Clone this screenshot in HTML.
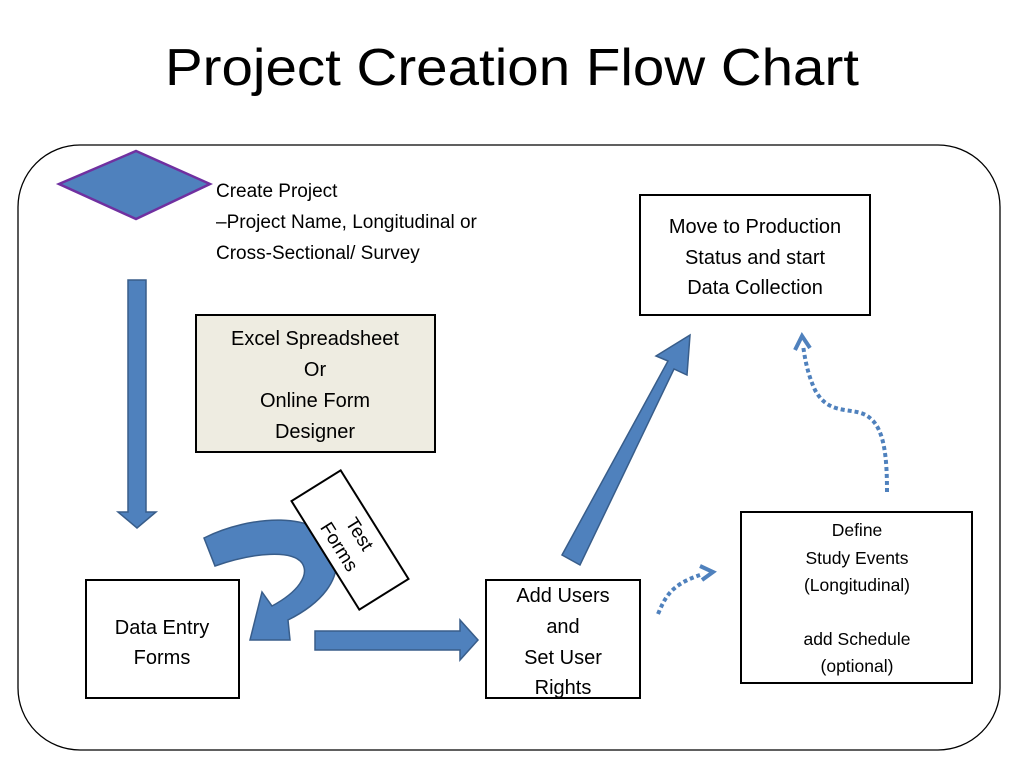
<!DOCTYPE html>
<html><head><meta charset="utf-8"><style>html,body{margin:0;padding:0;background:#fff}svg{display:block}</style></head>
<body>
<svg width="1024" height="768" viewBox="0 0 1024 768" xmlns="http://www.w3.org/2000/svg" font-family="Liberation Sans, sans-serif">
<rect width="1024" height="768" fill="#fff"/>
<text x="512" y="85" font-size="52" text-anchor="middle" fill="#000" textLength="694" lengthAdjust="spacingAndGlyphs">Project Creation Flow Chart</text>
<rect x="18" y="145" width="982" height="605" rx="62" ry="62" fill="none" stroke="#000" stroke-width="1.3"/>
<polygon points="59,184 136,151 210,184 136,219" fill="#4f81bd" stroke="#7030a0" stroke-width="2.5"/>
<g font-size="19" fill="#000">
<text x="216" y="197">Create Project</text>
<text x="216" y="228">–Project Name, Longitudinal or</text>
<text x="216" y="259">Cross-Sectional/ Survey</text>
</g>
<polygon points="128,280 146,280 146,512 156,512 137,528 118,512 128,512" fill="#4f81bd" stroke="#385d8a" stroke-width="1.5"/>
<rect x="196" y="315" width="239" height="137" fill="#eeece1" stroke="#000" stroke-width="2"/>
<g font-size="20" text-anchor="middle" fill="#000">
<text x="315" y="345">Excel Spreadsheet</text>
<text x="315" y="376">Or</text>
<text x="315" y="407">Online Form</text>
<text x="315" y="438">Designer</text>
</g>
<path d="M204,538 C250,515 320,510 334,548 C345,580 318,605 288,620 L290,640 L250,640 L262,592 L272,606 C298,592 310,575 302,563 C292,550 255,552 215,566 Z" fill="#4f81bd" stroke="#385d8a" stroke-width="1.5"/>
<g transform="translate(350,540) rotate(58)">
<rect x="-64" y="-29" width="128" height="58" fill="#fff" stroke="#000" stroke-width="2"/>
<text x="0" y="-5" font-size="19" text-anchor="middle">Test</text>
<text x="0" y="19" font-size="19" text-anchor="middle">Forms</text>
</g>
<rect x="86" y="580" width="153" height="118" fill="#fff" stroke="#000" stroke-width="2"/>
<g font-size="20" text-anchor="middle" fill="#000">
<text x="162" y="634">Data Entry</text>
<text x="162" y="664">Forms</text>
</g>
<polygon points="315,631 460,631 460,620 478,640 460,660 460,650 315,650" fill="#4f81bd" stroke="#385d8a" stroke-width="1.5"/>
<rect x="486" y="580" width="154" height="118" fill="#fff" stroke="#000" stroke-width="2"/>
<g font-size="20" text-anchor="middle" fill="#000">
<text x="563" y="602">Add Users</text>
<text x="563" y="633">and</text>
<text x="563" y="664">Set User</text>
<text x="563" y="694">Rights</text>
</g>
<polygon points="562,555 580,565 674,369 687,375 690,335 656,356 668,361" fill="#4f81bd" stroke="#385d8a" stroke-width="1.5"/>
<rect x="640" y="195" width="230" height="120" fill="#fff" stroke="#000" stroke-width="2"/>
<g font-size="20" text-anchor="middle" fill="#000">
<text x="755" y="233">Move to Production</text>
<text x="755" y="264">Status and start</text>
<text x="755" y="294">Data Collection</text>
</g>
<rect x="741" y="512" width="231" height="171" fill="#fff" stroke="#000" stroke-width="2"/>
<g font-size="17.5" text-anchor="middle" fill="#000">
<text x="857" y="536">Define</text>
<text x="857" y="564">Study Events</text>
<text x="857" y="591">(Longitudinal)</text>
<text x="857" y="645">add Schedule</text>
<text x="857" y="672">(optional)</text>
</g>
<path d="M658,614 C665,598 670,585 700,575" fill="none" stroke="#4f81bd" stroke-width="4" stroke-dasharray="4,3"/>
<polyline points="700,566 713,572 702,580" fill="none" stroke="#4f81bd" stroke-width="4"/>
<path d="M887,492 C887,460 885,430 870,418 C855,405 830,418 815,390 C808,375 805,360 803,345" fill="none" stroke="#4f81bd" stroke-width="4" stroke-dasharray="4,3"/>
<polyline points="795,350 802,336 810,348" fill="none" stroke="#4f81bd" stroke-width="4"/>
</svg>
</body></html>
